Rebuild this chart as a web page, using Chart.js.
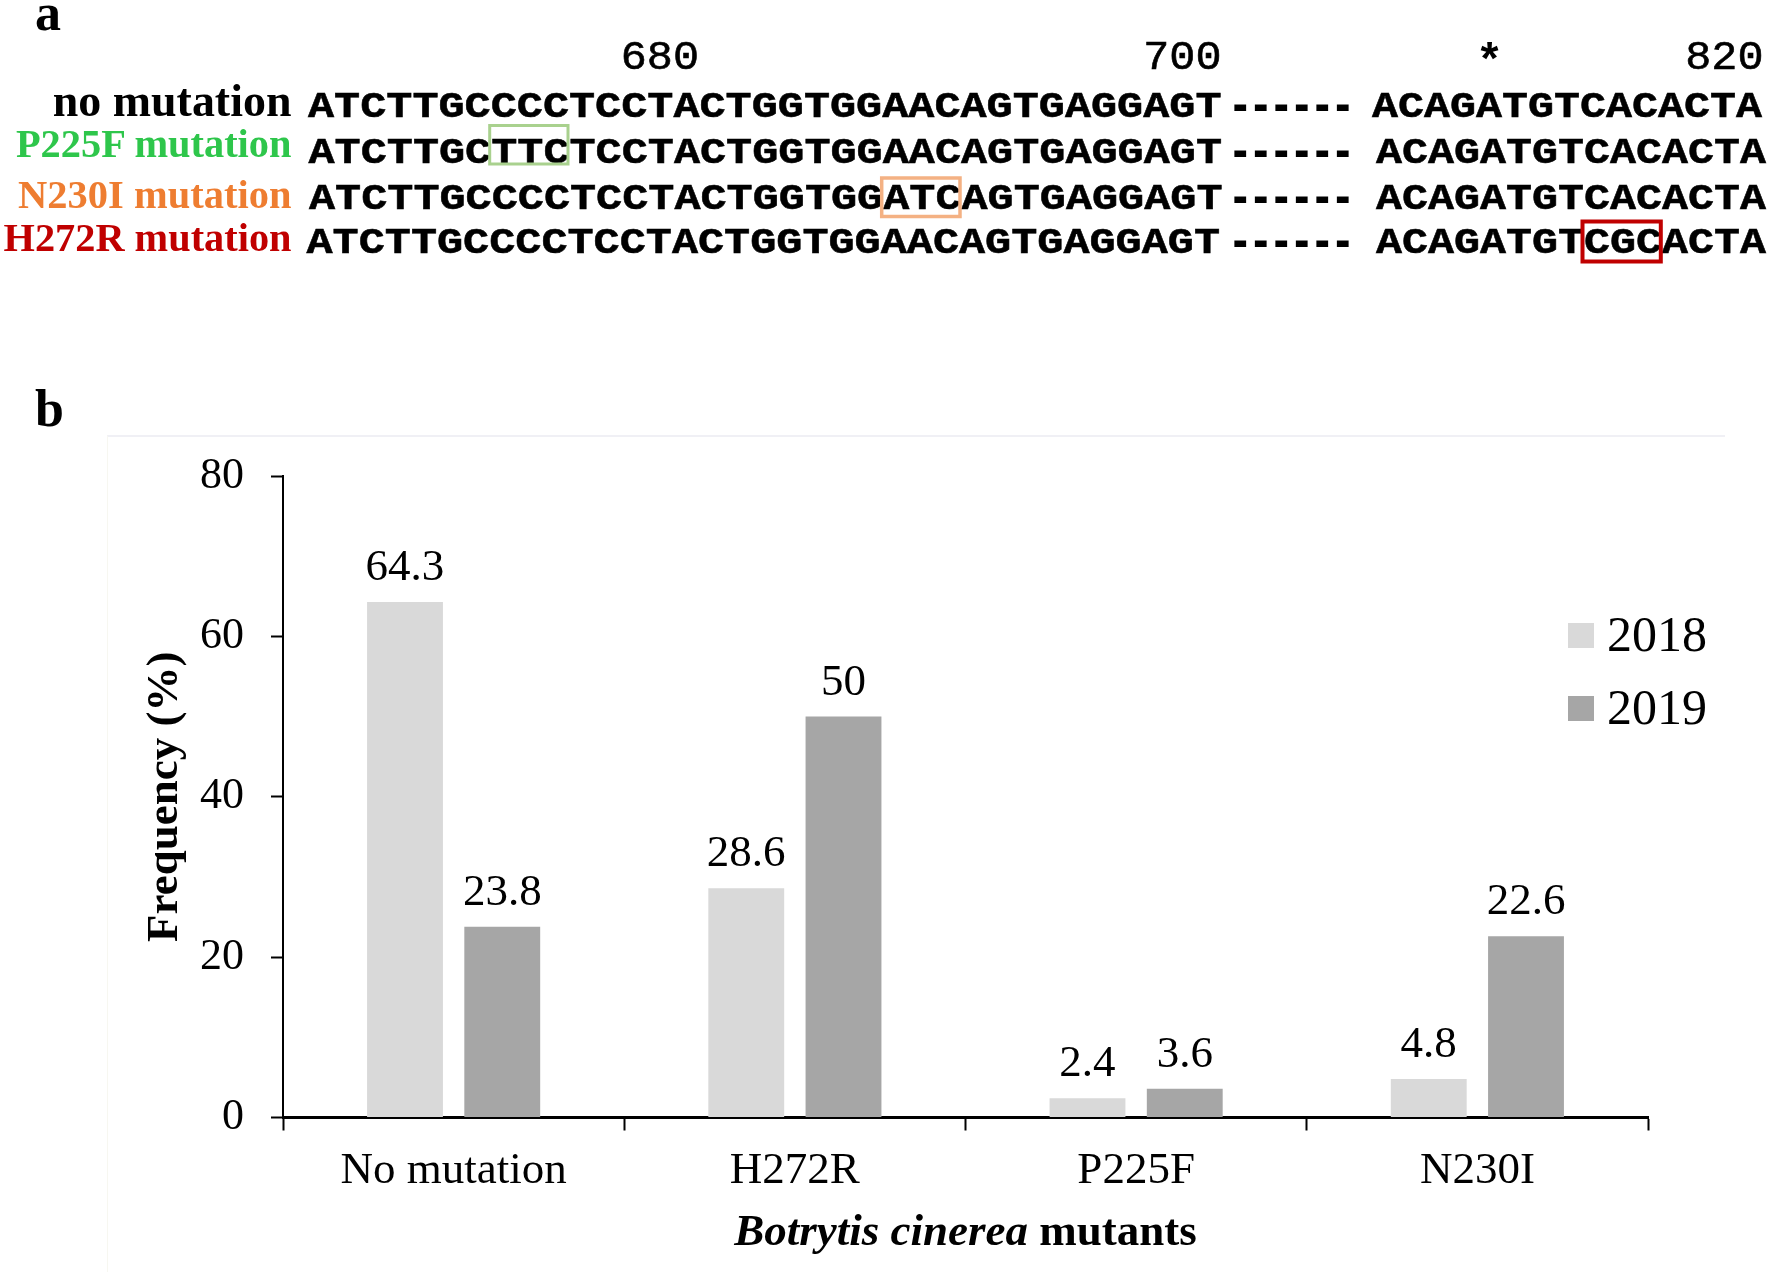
<!DOCTYPE html>
<html>
<head>
<meta charset="utf-8">
<script src="https://cdn.jsdelivr.net/npm/chart.js@4.4.1/dist/chart.umd.min.js"></script>
<style>
body{margin:0;background:#fff;width:1770px;height:1277px;overflow:hidden;position:relative;}
#frame{position:absolute;left:107px;top:435px;width:1617px;height:835px;border-top:2px solid #f0f0f5;border-left:1px solid #f7f7f1;}
#chart{position:absolute;left:0;top:0;}
#seq{position:absolute;left:0;top:0;}
</style>
</head>
<body>
<div id="frame"></div>
<canvas id="chart" width="1770" height="1277"></canvas>
<svg id="seq" width="1770" height="440"></svg>
<script>
// panel b data
const categories = ["No mutation", "H272R", "P225F", "N230I"]
const years = ["2018", "2019"]
const freq2018 = [64.3, 28.6, 2.4, 4.8]
const freq2019 = [23.8, 50, 3.6, 22.6]
const barColors = ["#d9d9d9", "#a6a6a6"]
const yTicks = [0, 20, 40, 60, 80]

// panel a data
const seqNames = ["no mutation", "P225F mutation", "N230I mutation", "H272R mutation"]
const nameColors = ["#000000", "#2ec64b", "#ee7d31", "#c00000"]
const seqLeft = [
  "ATCTTGCCCCTCCTACTGGTGGAACAGTGAGGAGT",
  "ATCTTGCTTCTCCTACTGGTGGAACAGTGAGGAGT",
  "ATCTTGCCCCTCCTACTGGTGGATCAGTGAGGAGT",
  "ATCTTGCCCCTCCTACTGGTGGAACAGTGAGGAGT"
]
const seqGap = ["------", "------", "------", "------"]
const seqRight = ["ACAGATGTCACACTA", "ACAGATGTCACACTA", "ACAGATGTCACACTA", "ACAGATGTCGCACTA"]
const posLabels = ["680", "700", "*", "820"]
// mutated codon: [row, segment, first base]
const codons = [[1, "left", 7], [2, "left", 22], [3, "right", 8]]
const codonColors = ["#a9d18e", "#f4b183", "#c00000"]

// ---- panel a (alignment) ----
const svgNS = "http://www.w3.org/2000/svg"
const svg = document.getElementById("seq")
function addText(str, attrs){
  const t = document.createElementNS(svgNS, "text")
  for (const k in attrs) t.setAttribute(k, attrs[k])
  t.textContent = str
  svg.appendChild(t)
  return t
}
const serif = "'Liberation Serif', 'Times New Roman', serif"
const mono = "'Liberation Mono', 'Courier New', monospace"
const cell = 26.1
const rowBase = [116.5, 162.5, 208.5, 253]
const nameBase = [115.5, 156.5, 207.5, 251]
const nameWidth = [238.8, 275.6, 273.4, 288]
const leftX = [308, 308.5, 309, 306.5]
const rightX = [1372, 1376, 1376, 1376]

addText("a", {x: 35, y: 30, "font-family": serif, "font-size": 52, "font-weight": "bold"})
addText("b", {x: 35, y: 426, "font-family": serif, "font-size": 52, "font-weight": "bold"})

const posX = [620.7, 1143.2, 1476.4, 1685.2]
posLabels.forEach((p, i) => {
  if (p === "*") {
    addText(p, {x: posX[i] + cell / 2, y: 76, "text-anchor": "middle", "font-family": mono, "font-size": 46, "font-weight": "bold"})
  } else {
    addText(p, {x: posX[i], y: 69, "font-family": mono, "font-size": 41, textLength: p.length * cell, lengthAdjust: "spacingAndGlyphs",
      stroke: "#000", "stroke-width": 0.6})
  }
})

seqNames.forEach((name, i) => {
  addText(name, {x: 291.5 - nameWidth[i], y: nameBase[i], "font-family": serif, "font-size": i === 0 ? 47 : 41,
    "font-weight": "bold", fill: nameColors[i], textLength: nameWidth[i], lengthAdjust: "spacingAndGlyphs"})
  const st = {"font-family": mono, "font-size": 36, "font-weight": "bold", lengthAdjust: "spacingAndGlyphs",
    stroke: "#000", "stroke-width": 0.5}
  addText(seqLeft[i], Object.assign({x: leftX[i], y: rowBase[i], textLength: seqLeft[i].length * cell}, st))
  addText(seqGap[i], Object.assign({x: 1230, y: rowBase[i], textLength: 123}, st, {"stroke-width": 2.2}))
  addText(seqRight[i], Object.assign({x: rightX[i], y: rowBase[i], textLength: seqRight[i].length * 26}, st))
})

const boxTop = [-37, -30.5, -31.5]
const boxH = [38.5, 38.5, 40]
const boxW = [3, 3.5, 4]
codons.forEach((c, k) => {
  const [row, part, start] = c
  const x0 = part === "left" ? leftX[row] + start * cell : rightX[row] + start * 26
  const r = document.createElementNS(svgNS, "rect")
  r.setAttribute("x", x0 - 1.5)
  r.setAttribute("y", rowBase[row] + boxTop[k])
  r.setAttribute("width", 3 * cell)
  r.setAttribute("height", boxH[k])
  r.setAttribute("fill", "none")
  r.setAttribute("stroke", codonColors[k])
  r.setAttribute("stroke-width", boxW[k])
  svg.appendChild(r)
})

// ---- panel b (chart) ----
const valueLabels = {
  id: "valueLabels",
  afterDatasetsDraw(chart){
    const c = chart.ctx
    c.save()
    c.font = "45px " + serif
    c.fillStyle = "#000"
    c.textAlign = "center"
    c.textBaseline = "alphabetic"
    chart.data.datasets.forEach((ds, i) => {
      chart.getDatasetMeta(i).data.forEach((bar, j) => {
        c.fillText(String(ds.data[j]), bar.x, bar.y - 22)
      })
    })
    c.restore()
  }
}

const sideLegend = {
  id: "sideLegend",
  afterDraw(chart){
    const c = chart.ctx
    c.save()
    c.font = "50px " + serif
    c.textBaseline = "alphabetic"
    chart.data.datasets.forEach((ds, i) => {
      c.fillStyle = ds.backgroundColor
      c.fillRect(1568, 623 + i * 73, 26, 25)
      c.fillStyle = "#000"
      c.fillText(ds.label, 1607, 651 + i * 73)
    })
    c.restore()
  }
}

const xTitle = {
  id: "xTitle",
  afterDraw(chart){
    const c = chart.ctx
    const a = chart.chartArea
    const p1 = "Botrytis cinerea", p2 = " mutants"
    c.save()
    c.fillStyle = "#000"
    c.textBaseline = "alphabetic"
    c.font = "italic bold 45px " + serif
    const w1 = c.measureText(p1).width
    c.font = "bold 45px " + serif
    const w2 = c.measureText(p2).width
    const x0 = (a.left + a.right) / 2 - (w1 + w2) / 2
    c.font = "italic bold 45px " + serif
    c.fillText(p1, x0, 1245)
    c.font = "bold 45px " + serif
    c.fillText(p2, x0 + w1, 1245)
    c.restore()
  }
}

new Chart(document.getElementById("chart"), {
  type: "bar",
  data: {
    labels: categories,
    datasets: [
      {label: years[0], data: freq2018, backgroundColor: barColors[0], barPercentage: 0.78, categoryPercentage: 0.57},
      {label: years[1], data: freq2019, backgroundColor: barColors[1], barPercentage: 0.78, categoryPercentage: 0.57}
    ]
  },
  options: {
    responsive: false,
    animation: false,
    layout: {padding: {top: 476, right: 122, left: 0, bottom: 0}},
    plugins: {legend: {display: false}, tooltip: {enabled: false}},
    scales: {
      x: {
        grid: {display: true, drawOnChartArea: false, drawTicks: true, tickLength: 13, tickWidth: 2, tickColor: "#000", offset: true},
        border: {display: true, color: "#000", width: 3},
        ticks: {color: "#000", font: {family: serif, size: 45}, padding: 14, maxRotation: 0, autoSkip: false},
        afterFit(s){ s.height = 159.5 }
      },
      y: {
        min: 0, max: 80,
        afterBuildTicks(s){ s.ticks = yTicks.map(v => ({value: v})) },
        grid: {drawOnChartArea: false, drawTicks: true, tickLength: 12, tickWidth: 2, tickColor: "#000"},
        border: {display: true, color: "#000", width: 2},
        ticks: {color: "#000", font: {family: serif, size: 44}, padding: 27},
        title: {display: true, text: "Frequency (%)", color: "#000",
          font: {family: serif, size: 45, weight: "bold", lineHeight: 1.2}, padding: {top: 138.5, bottom: 0}},
        afterFit(s){ s.width = 283 }
      }
    }
  },
  plugins: [valueLabels, sideLegend, xTitle]
})
</script>
</body>
</html>
